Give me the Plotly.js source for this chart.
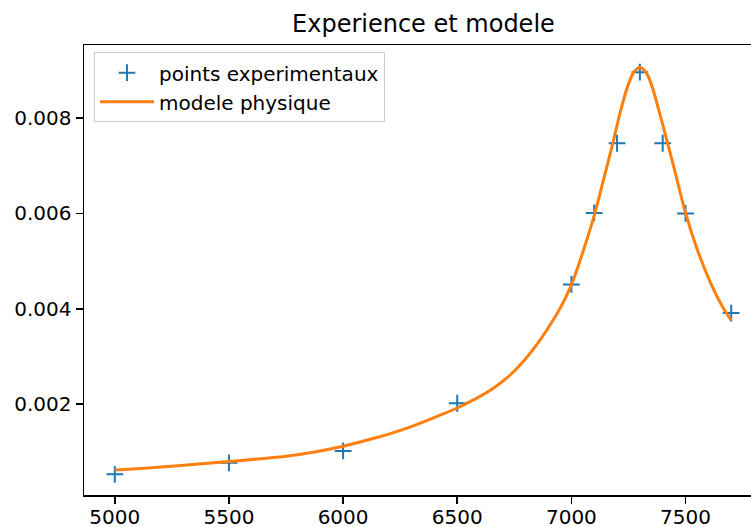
<!DOCTYPE html>
<html>
<head>
<meta charset="utf-8">
<script src="https://cdn.plot.ly/plotly-3.0.1.min.js"></script>
<style>
html, body { margin: 0; padding: 0; overflow: hidden; background: #fff; }
#chart { width: 800px; height: 527px; }
</style>
</head>
<body>
<div id="chart"></div>
<script>
// Experimental points
const expX = [5000, 5500, 6000, 6500, 7000, 7100, 7200, 7300, 7400, 7500, 7700];
const expY = [0.00053, 0.00077, 0.00102, 0.00202, 0.00451, 0.00601, 0.00747, 0.00896, 0.00747, 0.00600, 0.00391];

// Physical model curve
const modelX = [5000, 5250, 5500, 5750, 5875, 6000, 6140, 6280, 6425, 6500, 6575, 6645, 6720, 6790, 6865, 6925, 6955, 7000, 7055, 7100, 7140, 7180, 7215, 7250, 7275, 7300, 7325, 7350, 7385, 7410, 7450, 7500, 7550, 7610, 7660, 7700];
const modelY = [0.00062, 0.00070, 0.00080, 0.00091, 0.00100, 0.00112, 0.00129, 0.00150, 0.00177, 0.00192, 0.00210, 0.00229, 0.00256, 0.00290, 0.00336, 0.00380, 0.00405, 0.00450, 0.00526, 0.00596, 0.00669, 0.00744, 0.00814, 0.00871, 0.00897, 0.00906, 0.00897, 0.00871, 0.00813, 0.00768, 0.00695, 0.00601, 0.00526, 0.00454, 0.00406, 0.00376];

const xTicks = [5000, 5500, 6000, 6500, 7000, 7500];
const yTicks = [0.002, 0.004, 0.006, 0.008];
const yTickText = ['0.002', '0.004', '0.006', '0.008'];

const font = 'DejaVu Sans, sans-serif';

const traces = [
  {
    x: expX, y: expY, type: 'scatter', mode: 'markers',
    name: 'points experimentaux',
    marker: { symbol: 'cross-thin-open', size: 12, color: '#1f77b4', line: { color: '#1f77b4', width: 2 } }
  },
  {
    x: modelX, y: modelY, type: 'scatter', mode: 'lines',
    name: 'modele physique',
    line: { color: '#ff7f0e', width: 3, shape: 'spline', smoothing: 1 }
  }
];

const layout = {
  width: 800, height: 527,
  margin: { l: 84, r: 38, t: 45, b: 32 },
  paper_bgcolor: '#fff', plot_bgcolor: '#fff',
  font: { family: font, size: 20, color: '#000' },
  title: { text: 'Experience et modele', font: { family: font, size: 24, color: '#000' }, x: 0.5293, xanchor: 'center', y: 0.955, yanchor: 'middle' },
  showlegend: true,
  legend: {
    x: 0.0147, y: 0.984, xanchor: 'left', yanchor: 'top',
    bgcolor: 'rgba(255,255,255,0.8)', bordercolor: '#cccccc', borderwidth: 1,
    font: { family: font, size: 20, color: '#000' },
    itemwidth: 54, tracegroupgap: 0
  },
  xaxis: {
    range: [4865, 7835], tickvals: xTicks, ticktext: xTicks.map(String),
    showgrid: false, zeroline: false, showline: true, mirror: true,
    linecolor: '#000', linewidth: 1.5, ticks: 'outside', ticklen: 7, tickwidth: 1.5, tickcolor: '#000',
    ticklabelstandoff: -4,
    tickfont: { family: font, size: 20, color: '#000' }
  },
  yaxis: {
    range: [0.0000964, 0.00953], tickvals: yTicks, ticktext: yTickText,
    showgrid: false, zeroline: false, showline: true, mirror: true,
    linecolor: '#000', linewidth: 1.5, ticks: 'outside', ticklen: 7, tickwidth: 1.5, tickcolor: '#000',
    tickfont: { family: font, size: 20, color: '#000' }
  }
};

Plotly.newPlot('chart', traces, layout, { displayModeBar: false, staticPlot: true });
</script>
</body>
</html>
